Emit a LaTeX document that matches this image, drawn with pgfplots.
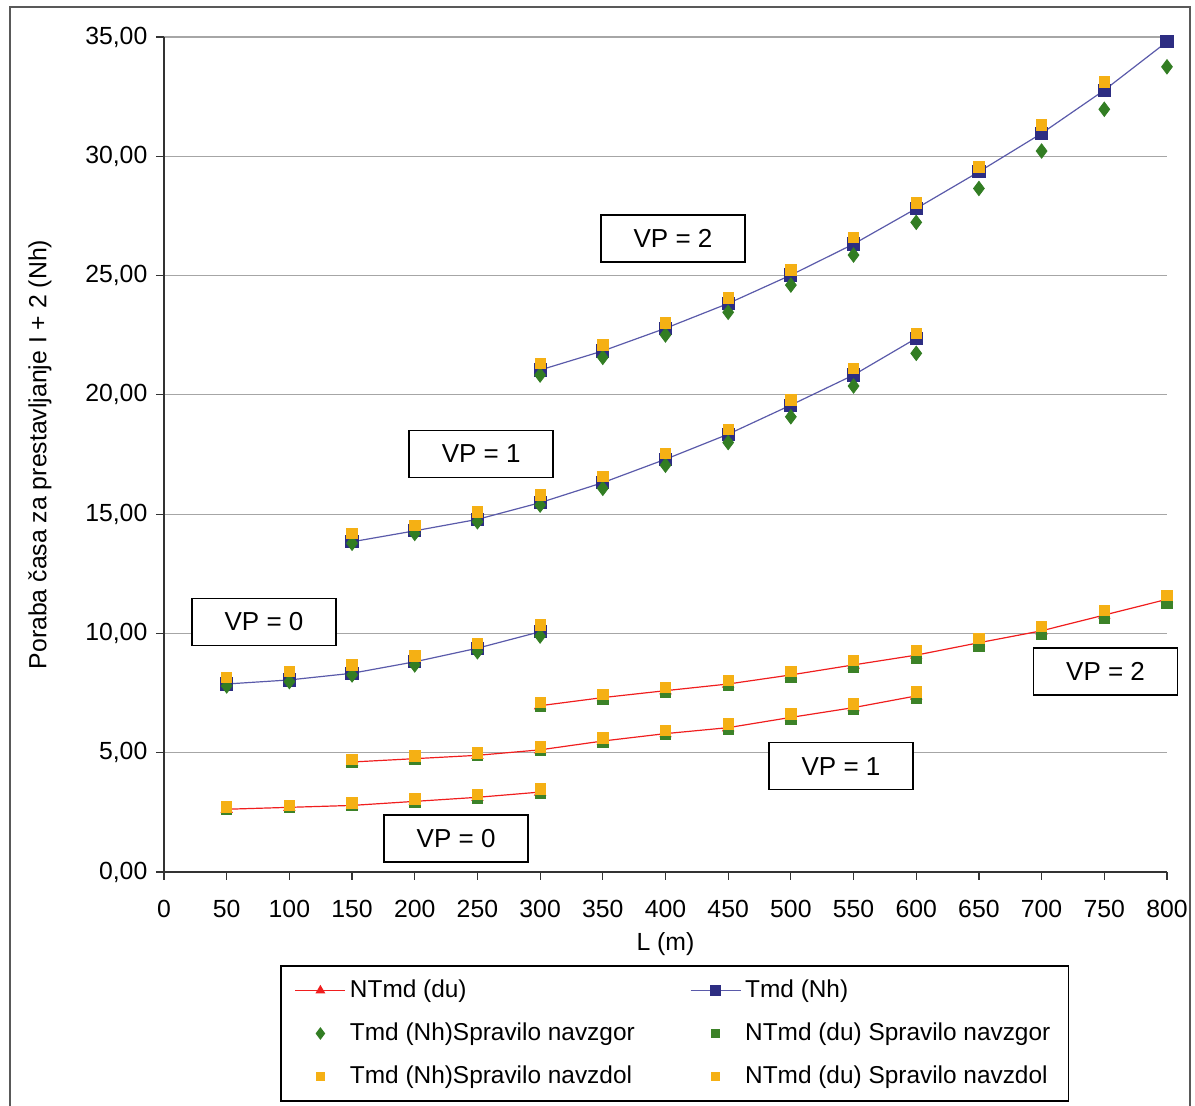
\documentclass[border=0pt]{standalone}
\usepackage{pgfplots}
\pgfplotsset{compat=1.18}
\usepackage{fontspec}
\setmainfont{Liberation Sans}
\definecolor{cred}{RGB}{240,30,30}
\definecolor{cblue}{RGB}{45,45,130}
\definecolor{cbline}{RGB}{90,90,170}
\definecolor{cgreen}{RGB}{50,125,35}
\definecolor{cgsq}{RGB}{60,130,40}
\definecolor{corange}{RGB}{245,176,20}
\tikzset{boxn/.style={draw=black, line width=0.9pt, fill=white, minimum width=72pt, minimum height=23.5pt, font=\fontsize{13}{15}\selectfont}}
\begin{document}
\fontsize{12.4}{14}\selectfont
\begin{tikzpicture}
\path[use as bounding box] (-82pt,-117pt) rectangle (515.5pt,436pt);
\draw[gray!70!black, line width=0.6pt] (-77pt,-117pt) -- (-77pt,432.5pt) -- (513pt,432.5pt) -- (513pt,-117pt);
\begin{axis}[
  at={(0pt,0pt)}, anchor=south west,
  scale only axis, width=501.5pt, height=417.5pt,
  xmin=0, xmax=800, ymin=0, ymax=35,
  xtick={0,50,...,800}, ytick={0,5,...,35},
  axis x line*=bottom, axis y line*=left,
  axis line style={line width=0.6pt, black!80},
  tick style={line width=0.6pt, black!80},
  tick align=outside, major tick length=4pt,
  ymajorgrids, grid style={gray!70, line width=0.6pt},
  clip=false,
  unbounded coords=jump,
  yticklabel style={/pgf/number format/.cd, fixed, fixed zerofill, precision=2, use comma, 1000 sep={}, assume math mode=true},
  xticklabel style={yshift=-6pt, /pgf/number format/.cd, fixed, 1000 sep={}, assume math mode=true},
  every axis y label/.style={at={(axis description cs:-0.1236,0.5)}, rotate=90, anchor=center},
  every axis x label/.style={at={(axis description cs:0.5,0)}, anchor=center, yshift=-36pt},
  ylabel={Poraba časa za prestavljanje I + 2 (Nh)},
  xlabel={L (m)},
  legend columns=2,
  legend cell align=left,
  legend style={at={(58pt,-46.5pt)}, anchor=north west, draw=black, line width=0.8pt,
     inner xsep=7pt, inner ysep=5pt, row sep=6.8pt,
     font=\fontsize{12.2}{14}\selectfont},
  legend image code/.code={\draw[mark repeat=2, mark phase=2, line width=0.6pt, every mark/.append style={scale=0.75}] plot coordinates {(0pt,0pt) (12.5pt,0pt) (25pt,0pt)};},
]
% NTmd (du)
\addplot[cred, line width=0.6pt, mark=triangle*, mark size=3pt, mark options={fill=cred, draw=cred}] coordinates {
(50,2.63)(100,2.71)(150,2.79)(200,2.96)(250,3.13)(300,3.35)
(300,nan)
(150,4.61)(200,4.75)(250,4.89)(300,5.12)(350,5.49)(400,5.80)(450,6.05)(500,6.48)(550,6.89)(600,7.38)
(600,nan)
(300,6.97)(350,7.31)(400,7.60)(450,7.88)(500,8.26)(550,8.68)(600,9.09)(650,9.61)(700,10.11)(750,10.77)(800,11.43)
};
\addlegendentry{\makebox[168pt][l]{NTmd (du)}}
% Tmd (Nh)
\addplot[cbline, line width=0.6pt, mark=square*, mark size=3pt, mark options={fill=cblue, draw=cblue}] coordinates {
(50,7.88)(100,8.05)(150,8.33)(200,8.81)(250,9.38)(300,10.07)
(300,nan)
(150,13.84)(200,14.30)(250,14.78)(300,15.48)(350,16.32)(400,17.30)(450,18.35)(500,19.57)(550,20.83)(600,22.37)
(600,nan)
(300,21.04)(350,21.84)(400,22.79)(450,23.83)(500,25.02)(550,26.32)(600,27.81)(650,29.35)(700,30.96)(750,32.77)(800,34.80)
};
\addlegendentry{Tmd (Nh)}
% Tmd (Nh) Spravilo navzgor
\addplot[only marks, mark=diamond*, mark size=3.6pt, mark options={fill=cgreen, draw=cgreen}] coordinates {
(50,7.80)(100,7.98)(150,8.26)(200,8.68)(250,9.23)(300,9.89)
(150,13.78)(200,14.19)(250,14.68)(300,15.38)(350,16.08)(400,17.05)(450,18.00)(500,19.08)(550,20.37)(600,21.74)
(300,20.83)(350,21.57)(400,22.51)(450,23.46)(500,24.60)(550,25.86)(600,27.23)(650,28.65)(700,30.22)(750,31.97)(800,33.75)
};
\addlegendentry{\makebox[168pt][l]{Tmd (Nh)Spravilo navzgor}}
% NTmd (du) Spravilo navzgor
\addplot[only marks, mark=square*, mark size=2.6pt, mark options={fill=cgsq, draw=cgsq}] coordinates {
(50,2.62)(100,2.70)(150,2.78)(200,2.94)(250,3.11)(300,3.32)
(150,4.60)(200,4.74)(250,4.88)(300,5.10)(350,5.46)(400,5.76)(450,6.00)(500,6.42)(550,6.82)(600,7.28)
(300,6.93)(350,7.26)(400,7.54)(450,7.81)(500,8.18)(550,8.58)(600,8.98)(650,9.48)(700,9.98)(750,10.62)(800,11.25)
};
\addlegendentry{NTmd (du) Spravilo navzgor}
% Tmd (Nh) Spravilo navzdol
\addplot[only marks, mark=square*, mark size=2.6pt, mark options={fill=corange, draw=corange}] coordinates {
(50,8.16)(100,8.40)(150,8.68)(200,9.05)(250,9.58)(300,10.35)
(150,14.19)(200,14.54)(250,15.10)(300,15.80)(350,16.57)(400,17.55)(450,18.55)(500,19.78)(550,21.11)(600,22.58)
(300,21.32)(350,22.09)(400,23.02)(450,24.07)(500,25.23)(550,26.60)(600,28.05)(650,29.56)(700,31.31)(750,33.12)
};
\addlegendentry{\makebox[168pt][l]{Tmd (Nh)Spravilo navzdol}}
% NTmd (du) Spravilo navzdol
\addplot[only marks, mark=square*, mark size=2.6pt, mark options={fill=corange, draw=corange}] coordinates {
(50,2.72)(100,2.80)(150,2.90)(200,3.06)(250,3.24)(300,3.48)
(150,4.72)(200,4.86)(250,5.00)(300,5.24)(350,5.62)(400,5.94)(450,6.20)(500,6.62)(550,7.05)(600,7.55)
(300,7.10)(350,7.44)(400,7.74)(450,8.04)(500,8.42)(550,8.86)(600,9.28)(650,9.78)(700,10.30)(750,10.96)(800,11.60)
};
\addlegendentry{NTmd (du) Spravilo navzdol}
\node[boxn] at (axis cs:79.8,10.48) {VP = 0};
\node[boxn] at (axis cs:253,17.52) {VP = 1};
\node[boxn] at (axis cs:406,26.57) {VP = 2};
\node[boxn] at (axis cs:751,8.42) {VP = 2};
\node[boxn] at (axis cs:540,4.44) {VP = 1};
\node[boxn] at (axis cs:233,1.42) {VP = 0};
\end{axis}
\end{tikzpicture}
\end{document}
